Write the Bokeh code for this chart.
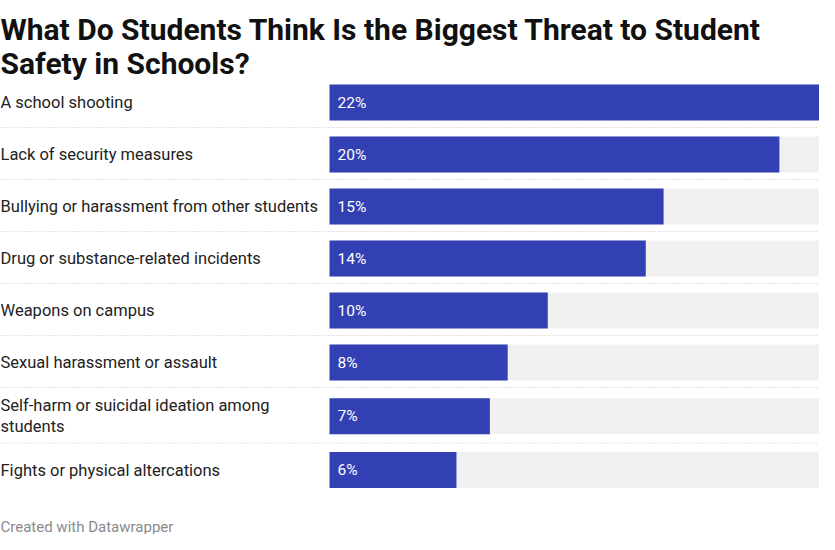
from bokeh.plotting import figure
from bokeh.models import Range1d, ColumnDataSource
from bokeh.core.properties import value
from bokeh.embed import file_html
from bokeh.resources import INLINE

# ---- data ----
title_lines = ["What Do Students Think Is the Biggest Threat to Student",
               "Safety in Schools?"]
categories = [
    "A school shooting",
    "Lack of security measures",
    "Bullying or harassment from other students",
    "Drug or substance-related incidents",
    "Weapons on campus",
    "Sexual harassment or assault",
    "Self-harm or suicidal ideation among\nstudents",
    "Fights or physical altercations",
]
values = [22.0, 20.2, 15.0, 14.2, 9.8, 8.0, 7.2, 5.7]
footer = "Created with Datawrapper"

# ---- layout ----
W, H = 819, 534
MARGIN = 8
BAR_START_PX = 337      # page x where value 0 sits
BAR_END_PX = 827        # page x where the max value sits
FIRST_ROW_TOP = 84
ROW_H = 52
EXTRA_LINE_H = 3.5
BAR_H = 36

vmax = max(values)
px_per_unit = (BAR_END_PX - BAR_START_PX) / vmax
x_start = -(BAR_START_PX - MARGIN) / px_per_unit
x_end = vmax + (MARGIN + W - BAR_END_PX) / px_per_unit

centers, seps = [], []
top = FIRST_ROW_TOP
for i, c in enumerate(categories):
    n_lines = c.count("\n") + 1
    h = ROW_H + (n_lines - 1) * EXTRA_LINE_H
    centers.append(top + h / 2)
    top += h
    if i < len(categories) - 1:
        seps.append(top - 1)

labels = [f"{round(v)}%" for v in values]

src = ColumnDataSource(dict(y=centers, v=values, cat=categories, lab=labels,
                            full=[vmax] * len(values), x0=[x_start] * len(values)))

p = figure(width=W, height=H, output_backend="svg", toolbar_location=None,
           x_range=Range1d(x_start, x_end), y_range=Range1d(MARGIN + H, MARGIN),
           min_border=0, outline_line_color=None)
p.axis.visible = False
p.grid.visible = False
p.background_fill_color = "white"
p.border_fill_color = "white"

# separators
for s in seps:
    p.line([x_start, vmax], [s, s], line_color="#c8c8c8", line_width=1, line_dash="1 2")

# background bars
p.hbar(y="y", left=0, right="full", height=BAR_H, source=src,
       fill_color="#f1f1f1", line_color=None)
# value bars
p.hbar(y="y", left=0, right="v", height=BAR_H, source=src,
       fill_color="#3340b4", line_color=None)

# value labels
p.text(x=0, y="y", text="lab", source=src, x_offset=8,
       text_font=value("Roboto"), text_font_size="15.5px", text_color="white",
       text_baseline="middle", text_align="left")

# category labels
p.text(x="x0", y="y", text="cat", source=src,
       text_font=value("Roboto"), text_font_size="16.5px", text_color="#222222",
       text_baseline="middle", text_align="left", text_line_height=1.1)

# title
p.text(x=[x_start, x_start], y=[37, 71], text=title_lines,
       text_font=value("Roboto"), text_font_size="30px", text_font_style="bold",
       text_color="#111111", text_baseline="alphabetic", text_align="left")

# footer
p.text(x=[x_start], y=[534], text=[footer],
       text_font=value("Roboto"), text_font_size="15px", text_color="#8a8a8a",
       text_baseline="alphabetic", text_align="left")

open("out.html", "w").write(file_html(p, INLINE))
